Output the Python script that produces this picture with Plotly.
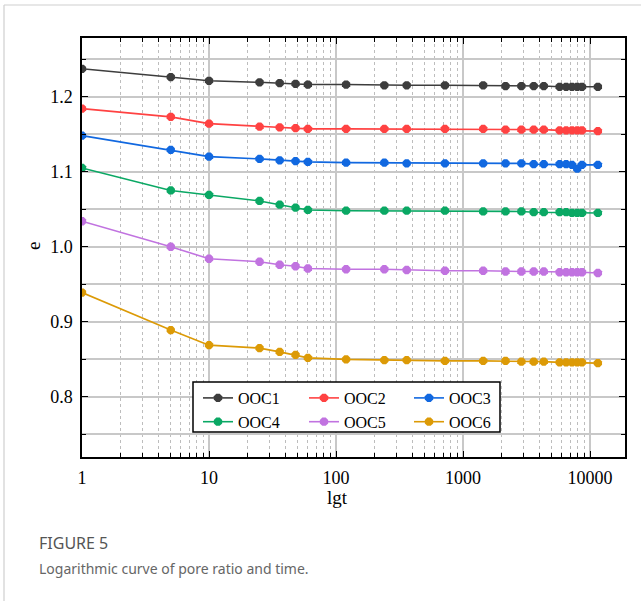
import plotly.graph_objects as go

times = [1, 5, 10, 25, 36, 48, 60, 120, 240, 360, 720, 1440, 2160, 2880, 3600, 4320,
         5760, 6480, 7200, 7920, 8640, 11520]

series_names = ["OOC1", "OOC2", "OOC3", "OOC4", "OOC5", "OOC6"]
ooc1 = [1.237, 1.226, 1.221, 1.219, 1.218, 1.217, 1.216, 1.216, 1.215, 1.215, 1.215, 1.215,
        1.214, 1.214, 1.214, 1.214, 1.213, 1.213, 1.213, 1.213, 1.213, 1.213]
ooc2 = [1.184, 1.173, 1.164, 1.160, 1.159, 1.158, 1.157, 1.157, 1.157, 1.157, 1.157, 1.157,
        1.156, 1.156, 1.156, 1.156, 1.155, 1.155, 1.155, 1.155, 1.155, 1.154]
ooc3 = [1.148, 1.129, 1.120, 1.117, 1.115, 1.114, 1.113, 1.112, 1.112, 1.111, 1.111, 1.111,
        1.111, 1.111, 1.110, 1.110, 1.110, 1.110, 1.109, 1.104, 1.109, 1.109]
ooc4 = [1.105, 1.075, 1.069, 1.061, 1.056, 1.052, 1.049, 1.048, 1.048, 1.048, 1.048, 1.047,
        1.047, 1.047, 1.046, 1.046, 1.046, 1.046, 1.045, 1.045, 1.045, 1.045]
ooc5 = [1.034, 1.000, 0.984, 0.980, 0.976, 0.974, 0.971, 0.970, 0.970, 0.969, 0.968, 0.968,
        0.967, 0.967, 0.967, 0.967, 0.966, 0.966, 0.966, 0.966, 0.966, 0.965]
ooc6 = [0.939, 0.889, 0.869, 0.865, 0.860, 0.856, 0.852, 0.850, 0.849, 0.849, 0.848, 0.848,
        0.848, 0.847, 0.847, 0.847, 0.846, 0.846, 0.846, 0.846, 0.846, 0.845]

x_tickvals = [1, 10, 100, 1000, 10000]
x_ticktext = ["1", "10", "100", "1000", "10000"]

colors = ["#3d3d3d", "#ff4242", "#1168e0", "#0aa864", "#c173e0", "#dc9a06"]
all_series = [ooc1, ooc2, ooc3, ooc4, ooc5, ooc6]
legend_ids = ["legend", "legend2", "legend3", "legend", "legend2", "legend3"]

W, H = 641, 601
L, R, T, B = 82, 16, 38, 144
PW, PH = W - L - R, H - T - B

def px(X):
    return (X - L) / PW

def py(Y):
    return (H - B - Y) / PH

fig = go.Figure()
for name, vals, col, lg in zip(series_names, all_series, colors, legend_ids):
    fig.add_trace(go.Scatter(
        x=times, y=vals, name=name, mode="lines+markers",
        line=dict(color=col, width=1.6),
        marker=dict(symbol="octagon", size=9, color=col),
        legend=lg,
    ))

serif = "Liberation Serif"
grid = "#c8c8c8"

leg_common = dict(bgcolor="rgba(0,0,0,0)", borderwidth=0, orientation="v",
                  font=dict(family=serif, size=16, color="#000"),
                  xanchor="left", yanchor="top", y=py(381), tracegroupgap=0,
                  itemwidth=30)
fig.update_layout(
    width=W, height=H,
    margin=dict(l=L, r=R, t=T, b=B),
    paper_bgcolor="white", plot_bgcolor="white",
    font=dict(family=serif, size=18, color="#000"),
    legend=dict(x=px(198), **leg_common),
    legend2=dict(x=px(304), **leg_common),
    legend3=dict(x=px(409), **leg_common),
    showlegend=True,
)

fig.update_xaxes(
    type="log", range=[0, 4.275],
    tickvals=x_tickvals, ticktext=x_ticktext,
    showline=True, linecolor="#000", linewidth=1.5, mirror="allticks",
    ticks="inside", ticklen=6, tickcolor="#000", tickwidth=1.2,
    showgrid=True, gridcolor=grid, gridwidth=1.5,
    tickfont=dict(family=serif, size=18),
    ticklabelstandoff=4,
    zeroline=False,
    minor=dict(dtick="D1", showgrid=True, gridcolor="#bdbdbd", griddash="dot",
               gridwidth=1, ticks="inside", ticklen=4, tickcolor="#000"),
)
fig.update_yaxes(
    range=[0.72, 1.278], tick0=0.8, dtick=0.1, tickformat=".1f",
    showline=True, linecolor="#000", linewidth=1.5, mirror="allticks",
    ticks="inside", ticklen=6, tickcolor="#000", tickwidth=1.2,
    showgrid=True, gridcolor=grid, gridwidth=1.5,
    tickfont=dict(family=serif, size=18),
    ticklabelstandoff=4,
    zeroline=False,
    minor=dict(dtick=0.05, showgrid=True, gridcolor=grid, gridwidth=1.5,
               ticks="inside", ticklen=4, tickcolor="#000"),
)

# legend box
fig.add_shape(type="rect", xref="paper", yref="paper",
              x0=px(193), x1=px(500), y0=py(432), y1=py(382),
              line=dict(color="#000", width=1.5), fillcolor="white", layer="above")

# outer card frame
fig.add_shape(type="line", xref="paper", yref="paper",
              x0=px(4), x1=px(4), y0=py(H), y1=py(5),
              line=dict(color="#cfcfcf", width=1.2))
fig.add_shape(type="line", xref="paper", yref="paper",
              x0=px(4), x1=px(W), y0=py(5), y1=py(5),
              line=dict(color="#cfcfcf", width=1.2))

# axis titles
fig.add_annotation(text="lgt", xref="paper", yref="paper", x=px(337), y=py(497),
                   showarrow=False, font=dict(family=serif, size=19, color="#000"),
                   xanchor="center", yanchor="middle")
fig.add_annotation(text="e", xref="paper", yref="paper", x=px(33), y=py(246),
                   showarrow=False, textangle=-90,
                   font=dict(family=serif, size=19, color="#000"),
                   xanchor="center", yanchor="middle")

# caption
fig.add_annotation(text="FIGURE 5", xref="paper", yref="paper", x=px(37), y=py(543),
                   showarrow=False, font=dict(family="Noto Sans", size=16, color="#555555"),
                   xanchor="left", yanchor="middle")
fig.add_annotation(text="Logarithmic curve of pore ratio and time.", xref="paper", yref="paper",
                   x=px(37), y=py(568), showarrow=False,
                   font=dict(family="Noto Sans", size=14, color="#666666"),
                   xanchor="left", yanchor="middle")

fig.write_html("out.html")
